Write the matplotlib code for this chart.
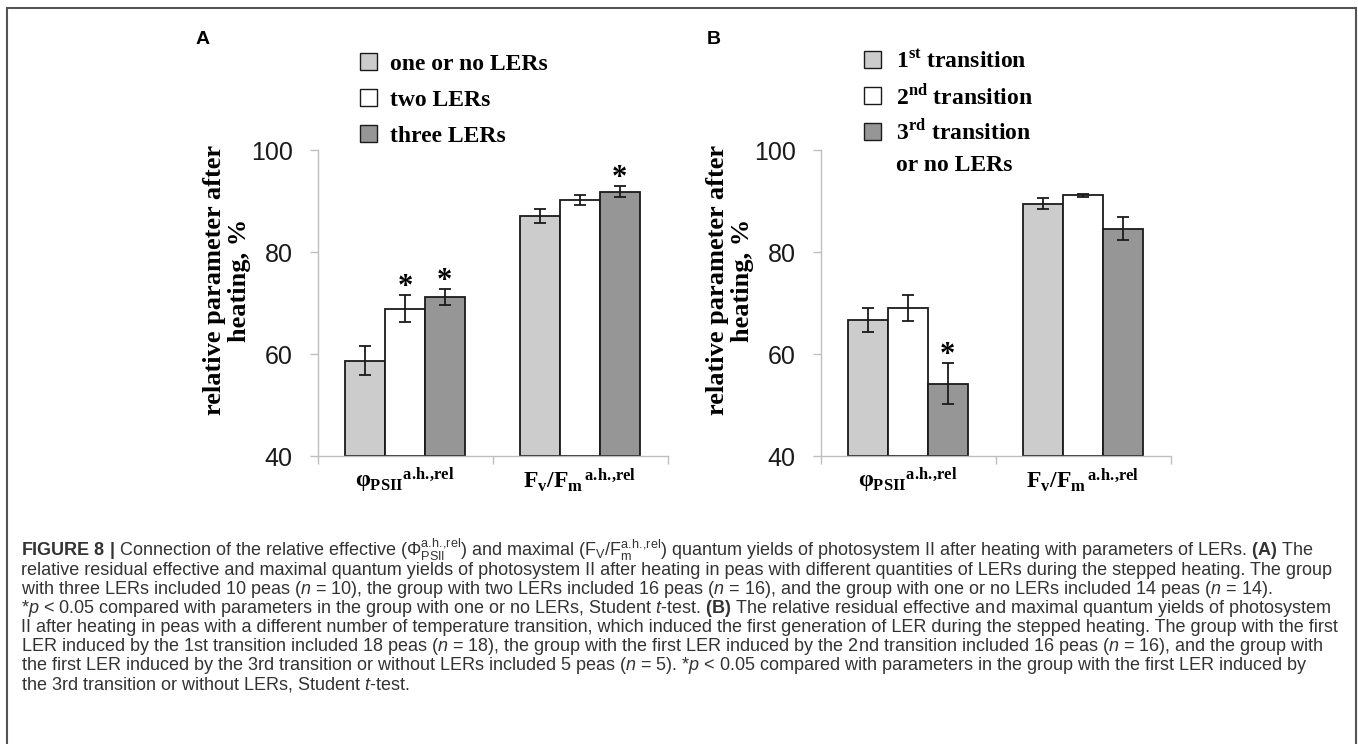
import matplotlib
matplotlib.use("Agg")
import matplotlib.pyplot as plt
from matplotlib.patches import Patch, Rectangle

# fonts: serif bold for the chart, sans for the caption
plt.rcParams['font.family'] = 'Liberation Sans'
plt.rcParams['mathtext.fontset'] = 'custom'
plt.rcParams['mathtext.rm'] = 'Liberation Serif:bold'
plt.rcParams['mathtext.it'] = 'Liberation Sans:italic'
plt.rcParams['mathtext.bf'] = 'Liberation Sans:bold'
plt.rcParams['mathtext.sf'] = 'Liberation Sans'

# ---- data ----
params = [r'$\mathrm{{φ_{PSII}}^{a.\!h.\!{,}rel}}$',
          r'$\mathrm{F_v/{F_m}^{\,a.\!h.\!{,}rel}}$']
yticks = [40, 60, 80, 100]
bar_colors = ['#cccccc', '#ffffff', '#969696']

a_labels = ['one or no LERs', 'two LERs', 'three LERs']
a_means = [[58.7, 87.1], [68.9, 90.2], [71.2, 91.8]]
a_errs = [[2.9, 1.4], [2.7, 1.0], [1.6, 1.1]]
a_stars = [[False, False], [True, False], [True, True]]

b_labels = [r'1$^{\mathrm{st}}$ transition', r'2$^{\mathrm{nd}}$ transition',
            r'3$^{\mathrm{rd}}$ transition', 'or no LERs']
b_means = [[66.7, 89.5], [69.0, 91.1], [54.2, 84.6]]
b_errs = [[2.3, 1.0], [2.6, 0.3], [4.0, 2.2]]
b_stars = [[False, False], [False, False], [True, False]]

ylabel = 'relative parameter after\nheating, %'

caption_lines = [
    r'$\mathbf{FIGURE\ 8\ |}$ Connection of the relative effective ($\mathsf{\Phi^{a.\!h.\!{,}rel}_{PSII}}$) and maximal ($\mathsf{F_V/F^{a.\!h.\!{,}rel}_m}$) quantum yields of photosystem II after heating with parameters of LERs. $\mathbf{(A)}$ The',
    'relative residual effective and maximal quantum yields of photosystem II after heating in peas with different quantities of LERs during the stepped heating. The group',
    r'with three LERs included 10 peas ($\mathit{n}$ = 10), the group with two LERs included 16 peas ($\mathit{n}$ = 16), and the group with one or no LERs included 14 peas ($\mathit{n}$ = 14).',
    r'*$\mathit{p}$ < 0.05 compared with parameters in the group with one or no LERs, Student $\mathit{t}$-test. $\mathbf{(B)}$ The relative residual effective and maximal quantum yields of photosystem',
    'II after heating in peas with a different number of temperature transition, which induced the first generation of LER during the stepped heating. The group with the first',
    r'LER induced by the 1st transition included 18 peas ($\mathit{n}$ = 18), the group with the first LER induced by the 2nd transition included 16 peas ($\mathit{n}$ = 16), and the group with',
    r'the first LER induced by the 3rd transition or without LERs included 5 peas ($\mathit{n}$ = 5). *$\mathit{p}$ < 0.05 compared with parameters in the group with the first LER induced by',
    r'the 3rd transition or without LERs, Student $\mathit{t}$-test.',
]

W, H = 1358, 744
fig = plt.figure(figsize=(W / 100, H / 100), dpi=100)

serif_bold = {'family': 'Liberation Serif', 'weight': 'bold'}
axis_grey = '#bfbfbf'
bar_w = 0.227


def draw_panel(ax, means, errs, stars):
    for i, (m, e, s) in enumerate(zip(means, errs, stars)):
        xs = [k + (i - 1) * bar_w for k in range(len(params))]
        ax.bar(xs, [v - 40 for v in m], bar_w, bottom=40, color=bar_colors[i],
               edgecolor='#1a1a1a', linewidth=1.3, zorder=2)
        ax.errorbar(xs, m, yerr=e, fmt='none', ecolor='#1a1a1a', elinewidth=1.3,
                    capsize=4.3, capthick=1.3, zorder=3)
        for x, v, err, star in zip(xs, m, e, s):
            if star:
                ax.annotate('*', xy=(x, v + err), xytext=(0, -5), textcoords='offset points',
                            ha='center', va='bottom', fontsize=22, **serif_bold)
    ax.set_xlim(-0.5, 1.5)
    ax.set_ylim(40, 100)
    ax.set_yticks(yticks)
    ax.set_xticks([-0.5, 0.5, 1.5])
    ax.set_xticklabels([])
    ax.set_xticks([0, 1], minor=True)
    ax.set_xticklabels(params, minor=True, fontsize=17)
    ax.tick_params(axis='x', which='major', direction='out', length=5.8, color=axis_grey, width=1)
    ax.tick_params(axis='x', which='minor', length=0, pad=7)
    ax.tick_params(axis='y', direction='out', length=5.8, color=axis_grey, width=1,
                   labelsize=18, pad=12, labelcolor='#1a1a1a')
    for sp in ['top', 'right']:
        ax.spines[sp].set_visible(False)
    for sp in ['left', 'bottom']:
        ax.spines[sp].set_color(axis_grey)
        ax.spines[sp].set_linewidth(1)


ax_w, ax_h = 350 / W, 306 / H
ax_b = 1 - 456 / H
axA = fig.add_axes([317.5 / W, ax_b, ax_w, ax_h])
axB = fig.add_axes([820.5 / W, ax_b, ax_w, ax_h])
draw_panel(axA, a_means, a_errs, a_stars)
draw_panel(axB, b_means, b_errs, b_stars)

for ax, x in [(axA, 227), (axB, 730)]:
    fig.text(x / W, 1 - 280 / H, ylabel, rotation=90, ha='center', va='center',
             multialignment='center', fontsize=19, linespacing=1.15, **serif_bold)

fig.text(203 / W, 1 - 39 / H, 'A', ha='center', va='center', fontsize=14, fontweight='bold')
fig.text(714 / W, 1 - 39 / H, 'B', ha='center', va='center', fontsize=14, fontweight='bold')

leg_props = {'family': 'Liberation Serif', 'weight': 'bold', 'size': 17}
hA = [Patch(facecolor=c, edgecolor='#1a1a1a', linewidth=1) for c in bar_colors]
axA.legend(hA, a_labels, loc='upper left', bbox_to_anchor=(360 / W, 1 - 53 / H),
           bbox_transform=fig.transFigure, frameon=False, prop=leg_props, borderpad=0,
           borderaxespad=0, handlelength=0.7, handleheight=0.7, handletextpad=0.55,
           labelspacing=0.62)
hB = hA + [Patch(facecolor='none', edgecolor='none')]
axB.legend(hB, b_labels, loc='upper left', bbox_to_anchor=(864 / W, 1 - 50 / H),
           bbox_transform=fig.transFigure, frameon=False, prop=leg_props, borderpad=0,
           borderaxespad=0, handlelength=0.7, handleheight=0.7, handletextpad=0.65,
           labelspacing=0.42)

# caption
for i, line in enumerate(caption_lines):
    fig.text(21 / W, 1 - (556 + i * 19) / H, line, ha='left', va='baseline',
             fontsize=13, color='#333333')

# frame around the figure (bottom edge runs off the page)
fig.add_artist(Rectangle((7 / W, -0.05), (1356 - 7) / W, 1.05 - 8 / H, transform=fig.transFigure,
                         fill=False, edgecolor='#555555', linewidth=1.5, clip_on=False))

fig.savefig('out.png', dpi=100)
